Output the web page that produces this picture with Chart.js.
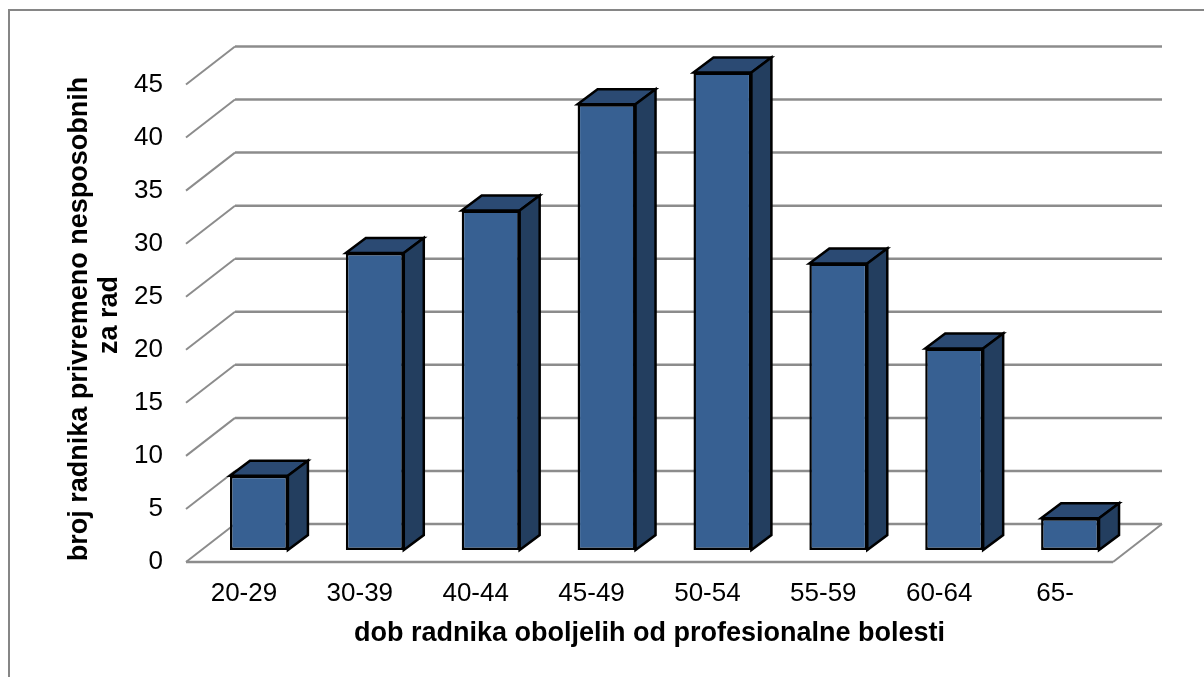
<!DOCTYPE html>
<html><head><meta charset="utf-8">
<style>html,body{margin:0;padding:0;background:#fff;overflow:hidden}#w{position:relative;width:1204px;height:677px}</style>
<script src="https://cdn.jsdelivr.net/npm/chart.js@4"></script></head>
<body><div id="w"><canvas id="c" width="1204" height="677"></canvas></div>
<script>
const categories = ['20-29','30-39','40-44','45-49','50-54','55-59','60-64','65-'];
const values = [7,28,32,42,45,27,19,3];
const yTitle = ['broj radnika privremeno nesposobnih','za rad'];
const xTitle = 'dob radnika oboljelih od profesionalne bolesti';
const GRID='#8c8c8c', FRONT='#376092', TOP='#2b4a73', SIDE='#233e5f';
const WALL={dx:49,dy:-38}, OFF={dx:15,dy:-12}, DEPTH={dx:20,dy:-15};
const scene={
  id:'scene',
  beforeDatasetsDraw(ch){
    const c=ch.ctx,x=ch.scales.x,y=ch.scales.y;
    c.save();
    c.strokeStyle='#868686';c.lineWidth=2;
    c.strokeRect(9,10,1300,1000);
    c.strokeStyle=GRID;
    y.ticks.forEach(t=>{
      const p=y.getPixelForValue(t.value);
      c.lineWidth=2;c.beginPath();c.moveTo(x.left,p);c.lineTo(x.left+WALL.dx,p+WALL.dy);c.stroke();
      c.lineWidth=2.5;c.beginPath();c.moveTo(x.left+WALL.dx,p+WALL.dy);c.lineTo(x.right+WALL.dx,p+WALL.dy);c.stroke();
    });
    const b=y.getPixelForValue(0);
    c.lineWidth=2.5;c.beginPath();c.moveTo(x.left,b);c.lineTo(x.right,b);c.stroke();
    c.lineWidth=2;c.beginPath();c.moveTo(x.right,b);c.lineTo(x.right+WALL.dx,b+WALL.dy);c.stroke();
    // vertical axis title, two lines, centred as in the reference
    c.fillStyle='#000';c.font='bold 27px "Liberation Sans",Arial,sans-serif';c.textAlign='center';c.textBaseline='middle';
    [[80,319],[110,315]].forEach((pos,i)=>{
      c.save();c.translate(pos[0],pos[1]);c.rotate(-Math.PI/2);c.fillText(yTitle[i],0,0);c.restore();
    });
    c.restore();
  },
  beforeDatasetDraw(ch){
    const c=ch.ctx;c.save();c.translate(OFF.dx,OFF.dy);
    c.lineWidth=2.5;c.strokeStyle='#000';c.lineJoin='miter';
    ch.getDatasetMeta(0).data.forEach(e=>{
      const l=e.x-e.width/2,r=e.x+e.width/2,t=e.y,bt=e.base;
      c.fillStyle=TOP;c.beginPath();c.moveTo(l,t);c.lineTo(l+DEPTH.dx,t+DEPTH.dy);c.lineTo(r+DEPTH.dx,t+DEPTH.dy);c.lineTo(r,t);c.closePath();c.fill();c.stroke();
      c.fillStyle=SIDE;c.beginPath();c.moveTo(r,t);c.lineTo(r+DEPTH.dx,t+DEPTH.dy);c.lineTo(r+DEPTH.dx,bt+DEPTH.dy);c.lineTo(r,bt);c.closePath();c.fill();c.stroke();
    });
  },
  afterDatasetDraw(ch){ch.ctx.restore();}
};
Chart.defaults.font.family='"Liberation Sans",Arial,sans-serif';
new Chart(document.getElementById('c'),{
  type:'bar',
  data:{labels:categories,datasets:[{data:values,backgroundColor:FRONT,borderColor:'#000',borderWidth:2.5,borderSkipped:false,barPercentage:0.5,categoryPercentage:1,clip:false}]},
  options:{
    responsive:false,animation:false,
    layout:{padding:{top:84.5,right:91,left:0,bottom:27}},
    plugins:{legend:{display:false},tooltip:{enabled:false}},
    scales:{
      x:{afterFit(s){s.height=88;},grid:{display:false},border:{display:false},
        ticks:{color:'#000',font:{size:26},padding:8,maxRotation:0},
        title:{display:true,text:xTitle,color:'#000',font:{size:27,weight:'bold'},padding:{top:0,bottom:0}}},
      y:{min:0,max:45,afterFit(s){s.width=186;},grid:{display:false},border:{display:false},
        ticks:{stepSize:5,color:'#000',font:{size:26},padding:15}}
    }
  },
  plugins:[scene]
});
</script></body></html>
